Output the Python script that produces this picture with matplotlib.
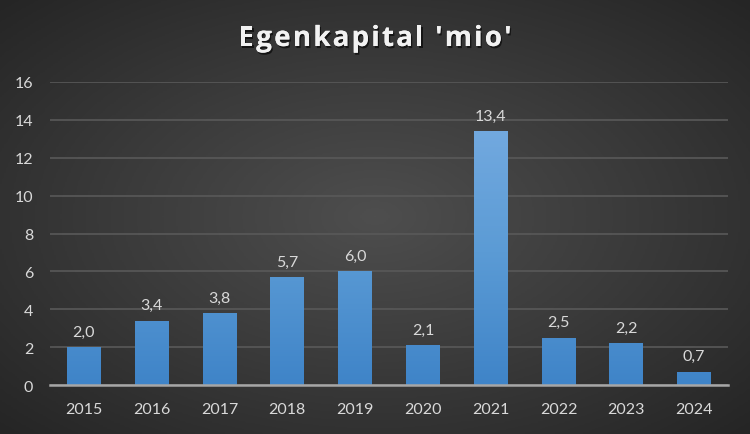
import numpy as np
import matplotlib
matplotlib.use('Agg')
import matplotlib.pyplot as plt
import matplotlib.patheffects as pe
from matplotlib.colors import LinearSegmentedColormap

# Data
years = ['2015', '2016', '2017', '2018', '2019', '2020', '2021', '2022', '2023', '2024']
values = [2.0, 3.4, 3.8, 5.7, 6.0, 2.1, 13.4, 2.5, 2.2, 0.7]
labels = ['2,0', '3,4', '3,8', '5,7', '6,0', '2,1', '13,4', '2,5', '2,2', '0,7']
title = "Egenkapital 'mio'"

plt.rcParams['font.family'] = ['Lato', 'DejaVu Sans']

fig = plt.figure(figsize=(7.5, 4.35), dpi=100)

# radial gradient background
bg = fig.add_axes([0, 0, 1, 1])
gx, gy = np.meshgrid(np.linspace(-1, 1, 400), np.linspace(-1, 1, 240))
r = np.sqrt(gx**2 + gy**2) / np.sqrt(2)
bg_cmap = LinearSegmentedColormap.from_list('bg', ['#4e4e4e', '#3a3a3a', '#252525'])
bg.imshow(r, cmap=bg_cmap, aspect='auto', extent=[0, 1, 0, 1], vmin=0, vmax=1)
bg.set_axis_off()

ax = fig.add_axes([0.0667, 0.1126, 0.904, 0.6966])
ax.set_facecolor('none')

x = np.arange(len(years))
bars = ax.bar(x, values, width=0.5, color='#5b9bd5', zorder=3)

# vertical gradient in the bars
bar_cmap = LinearSegmentedColormap.from_list('bar', ['#3f84c8', '#5b9bd5', '#74aae0'])
grad = np.linspace(0, 1, 256).reshape(-1, 1)
for b in bars:
    im = ax.imshow(grad, cmap=bar_cmap, aspect='auto', origin='lower',
                   extent=[b.get_x(), b.get_x() + b.get_width(), 0, 14], zorder=3)
    im.set_clip_path(b)

for xi, v, lab in zip(x, values, labels):
    ax.text(xi, v + 0.45, lab, ha='center', va='bottom', fontsize=11.5, color='#d9d9d9', zorder=4)

ax.set_xlim(-0.5, len(years) - 0.5)
ax.set_ylim(0, 16)
ax.set_yticks(range(0, 17, 2))
ax.set_xticks(x)
ax.set_xticklabels(years)
ax.tick_params(axis='both', length=0, colors='#d9d9d9', labelsize=11.5)
ax.tick_params(axis='x', pad=12)
ax.tick_params(axis='y', pad=12)
ax.grid(axis='y', color='#595959', linewidth=1.2, zorder=0)
for s in ['top', 'right', 'left']:
    ax.spines[s].set_visible(False)
ax.spines['bottom'].set_color('#a6a6a6')
ax.spines['bottom'].set_linewidth(1.8)
ax.spines['bottom'].set_zorder(5)

# title with letter spacing, drawn one character at a time
renderer = fig.canvas.get_renderer()
tprops = dict(fontsize=20, fontweight='bold', color='#f2f2f2',
              family=['Open Sans', 'DejaVu Sans'], va='baseline', ha='left',
              path_effects=[pe.withSimplePatchShadow(offset=(1, -1.5), shadow_rgbFace='black', alpha=0.6),
                            pe.Normal()])
spacing = 2.2  # px between letters
widths = []
for ch in title:
    t = fig.text(0, 0, ch if ch != ' ' else 'a', **tprops)
    w = t.get_window_extent(renderer).width
    if ch == ' ':
        t2 = fig.text(0, 0, 'a a', **tprops)
        t3 = fig.text(0, 0, 'aa', **tprops)
        w = t2.get_window_extent(renderer).width - t3.get_window_extent(renderer).width
        t2.remove()
        t3.remove()
    t.remove()
    widths.append(w)
total = sum(widths) + spacing * (len(title) - 1)
xpos = (750 - total) / 2
for ch, w in zip(title, widths):
    if ch != ' ':
        fig.text(xpos / 750, 1 - 47 / 435, ch, **tprops)
    xpos += w + spacing

fig.savefig('out.png', dpi=100)
